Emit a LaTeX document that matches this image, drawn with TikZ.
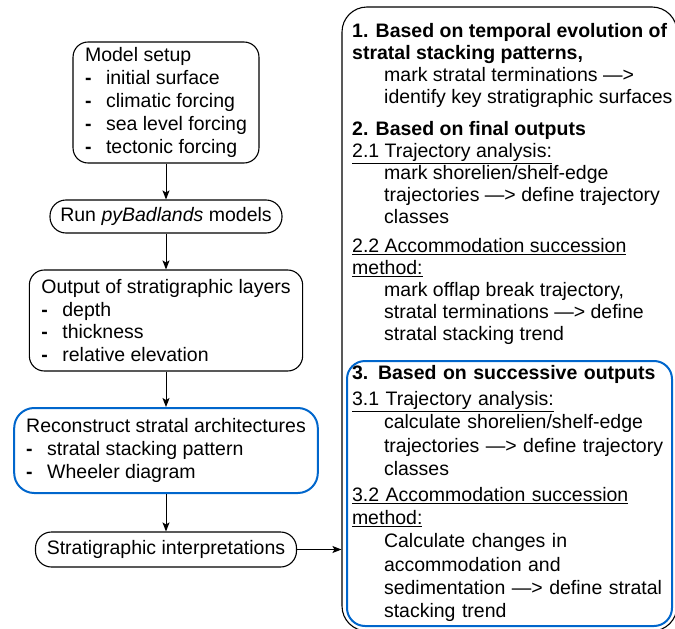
\documentclass[tikz,border=0pt]{standalone}
\usepackage{fontspec}
\setmainfont{Liberation Sans}
\usetikzlibrary{arrows.meta}
\definecolor{stepblue}{RGB}{0,102,204}
\newcommand{\boxfont}{\fontsize{19.5}{22.8}\selectfont}
\newcommand{\critfont}{\fontsize{19.5}{22}\selectfont}
\newcommand{\succfont}{\fontsize{19.5}{23.2}\selectfont}
\newcommand{\itm}{\makebox[21pt][l]{\textbf{-}}}
\newcommand{\ind}{\hspace*{32pt}}
\tikzset{%
  flowedge/.style={->, >={Stealth[length=9pt, width=7pt, inset=2pt]}, line width=1pt},
  flowbox/.style={draw=black, line width=1.1pt, rounded corners=15pt, align=left, inner xsep=12pt, inner ysep=0pt},
  pillbox/.style={draw=black, line width=1.1pt, rounded corners=16pt, inner sep=0pt}
}

\begin{document}
\begin{tikzpicture}[x=1pt, y=-1pt, font=\boxfont]
  \useasboundingbox (0,0) rectangle (675,629);

% workflow boxes
\node [flowbox, minimum height=121pt] (setup) at (166,102.5)
  {Model setup\\ \itm initial surface\\ \itm climatic forcing\\ \itm sea level forcing\\ \itm tectonic forcing};
\node [pillbox, minimum width=232pt, minimum height=33pt] (run) at (166,216.5)
  {Run \textit{pyBadlands} models};
\node [flowbox, minimum height=101pt] (output) at (166,320.5)
  {Output of stratigraphic layers\\ \itm depth\\ \itm thickness\\ \itm relative elevation};
\node [flowbox, draw=stepblue, line width=2pt, rounded corners=20pt, inner xsep=12pt, minimum height=85pt] (recon) at (166,450.5)
  {Reconstruct stratal architectures\\ \itm stratal stacking pattern\\ \itm Wheeler diagram};
\node [pillbox, minimum width=261pt, minimum height=35pt] (interp) at (166,549.5)
  {Stratigraphic interpretations};

% interpretation methods
\node [draw=black, line width=1.1pt, rounded corners=25pt, minimum width=335pt, minimum height=624pt] (methods) at (509.5,319) {};

\node [align=left, inner sep=0pt, anchor=north west, font=\critfont] (crit) at (352,23)
  {\textbf{1. Based on temporal evolution of}\\
   \textbf{stratal stacking patterns,}\\
   \ind mark stratal terminations —>\\
   \ind identify key stratigraphic surfaces\\[10pt]
   \textbf{2. Based on final outputs}\\
   \underline{2.1 Trajectory analysis:}\\
   \ind mark shorelien/shelf-edge\\
   \ind trajectories —> define trajectory\\
   \ind classes\\[7pt]
   \underline{2.2 Accommodation succession}\\
   \underline{method:}\\
   \ind mark offlap break trajectory,\\
   \ind stratal terminations —> define\\
   \ind stratal stacking trend};

\node [draw=stepblue, line width=2pt, rounded corners=18pt, align=left, text width=315pt, inner xsep=5pt, inner ysep=0pt, minimum height=265pt, font=\succfont] (succ) at (509.5,493.5)
  {\textbf{3. Based on successive outputs}\\[3pt]
   \underline{3.1 Trajectory analysis:}\\
   \ind calculate shorelien/shelf-edge\\
   \ind trajectories —> define trajectory\\
   \ind classes\\[3pt]
   \underline{3.2 Accommodation succession}\\
   \underline{method:}\\
   \ind Calculate changes in\\
   \ind accommodation and\\
   \ind sedimentation —> define stratal\\
   \ind stacking trend};

% arrows
\draw [flowedge] (setup) -- (run);
\draw [flowedge] (run) -- (output);
\draw [flowedge] (output) -- (recon);
\draw [flowedge] (recon) -- (interp);
\draw [flowedge] (interp) -- (interp -| methods.west);

\end{tikzpicture}
\end{document}
